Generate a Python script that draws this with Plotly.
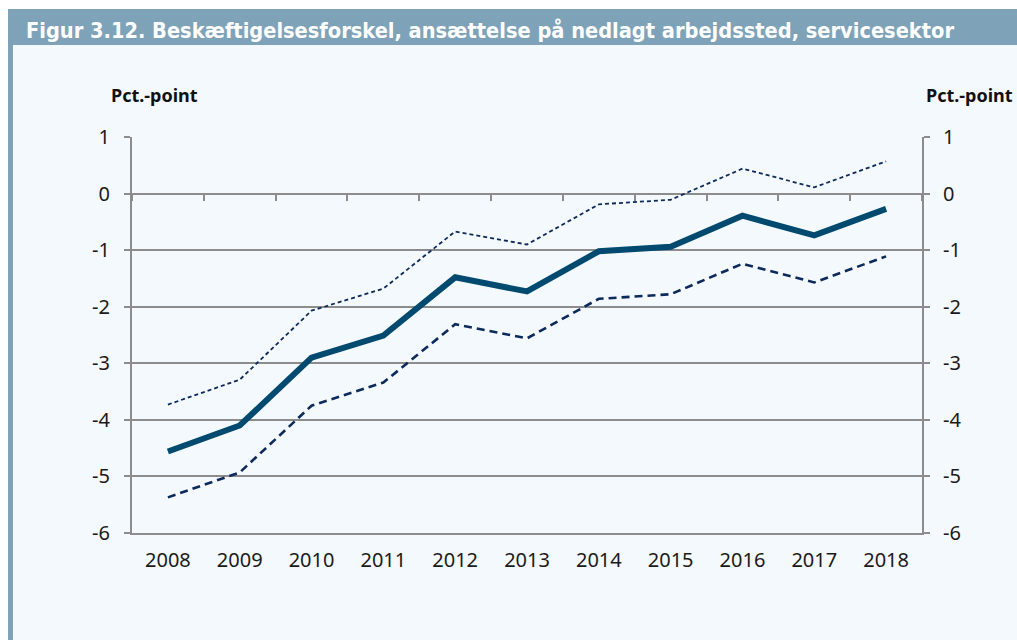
import plotly.graph_objects as go

years = ["2008", "2009", "2010", "2011", "2012", "2013", "2014", "2015", "2016", "2017", "2018"]
estimate = [-4.56, -4.10, -2.90, -2.51, -1.48, -1.73, -1.02, -0.94, -0.39, -0.74, -0.27]
upper = [-3.73, -3.29, -2.07, -1.68, -0.67, -0.90, -0.19, -0.11, 0.44, 0.11, 0.57]
lower = [-5.37, -4.93, -3.75, -3.34, -2.31, -2.56, -1.86, -1.78, -1.24, -1.57, -1.11]
y_ticks = [1, 0, -1, -2, -3, -4, -5, -6]

title_text = "Figur 3.12. Beskæftigelsesforskel, ansættelse på nedlagt arbejdssted, servicesektor"
unit_text = "Pct.-point"

W, H = 1017, 640
L, R, T, B = 132, 922, 137, 533

def px(x):
    return (x - L) / (R - L)

def py(y):
    return (B - y) / (B - T)

GRID = "#8c8c8c"
NAVY = "#0d2a5c"
MAIN = "#004a70"
TICKFONT = dict(family="Noto Sans, Open Sans, sans-serif", size=20, color="#1a1a1a")

fig = go.Figure()
# upper band drawn on the overlaying axes (same ranges) so the right axis and zero-line ticks render
fig.add_trace(go.Scatter(x=years, y=upper, mode="lines", xaxis="x2", yaxis="y2",
                         line=dict(color=NAVY, width=1.8, dash="4px,3px"),
                         showlegend=False, hoverinfo="skip"))
fig.add_trace(go.Scatter(x=years, y=lower, mode="lines",
                         line=dict(color=NAVY, width=2.6, dash="8px,5px"),
                         showlegend=False, hoverinfo="skip"))
fig.add_trace(go.Scatter(x=years, y=estimate, mode="lines",
                         line=dict(color=MAIN, width=6),
                         showlegend=False, hoverinfo="skip"))

shapes = [
    dict(type="rect", xref="paper", yref="paper", x0=px(13), x1=px(1017), y0=py(640), y1=py(45),
         fillcolor="#f4f9fd", line=dict(width=0), layer="below"),
    dict(type="rect", xref="paper", yref="paper", x0=px(8), x1=px(13), y0=py(640), y1=py(9),
         fillcolor="#7ea3b8", line=dict(width=0), layer="below"),
    dict(type="rect", xref="paper", yref="paper", x0=px(8), x1=px(1017), y0=py(45), y1=py(9),
         fillcolor="#7ea3b8", line=dict(width=0), layer="below"),
]

annotations = [
    dict(text="<b>" + title_text + "</b>", xref="paper", yref="paper", x=px(24), y=py(31),
         xanchor="left", yanchor="middle", showarrow=False,
         font=dict(family="DejaVu Sans Condensed, Liberation Sans Narrow, sans-serif", size=21.6, color="white")),
    dict(text="<b>" + unit_text + "</b>", xref="paper", yref="paper", x=px(109), y=py(95),
         xanchor="left", yanchor="middle", showarrow=False,
         font=dict(family="Noto Sans, Open Sans, sans-serif", size=18, color="#111111")),
    dict(text="<b>" + unit_text + "</b>", xref="paper", yref="paper", x=px(1015), y=py(95),
         xanchor="right", yanchor="middle", showarrow=False,
         font=dict(family="Noto Sans, Open Sans, sans-serif", size=18, color="#111111")),
]

fig.update_layout(
    width=W, height=H,
    margin=dict(l=L, r=W - R, t=T, b=H - B, pad=0),
    paper_bgcolor="white", plot_bgcolor="rgba(0,0,0,0)",
    shapes=shapes, annotations=annotations,
    xaxis=dict(type="category", categoryorder="array", categoryarray=years,
               range=[-0.5, 10.5], showgrid=False, showline=True, linecolor=GRID, linewidth=2,
               ticks="", tickfont=TICKFONT, ticklabelstandoff=8, zeroline=False, fixedrange=True),
    xaxis2=dict(type="category", categoryorder="array", categoryarray=years,
                range=[-0.5, 10.5], overlaying="x", anchor="free", position=6 / 7, side="bottom",
                tickson="boundaries", ticks="outside", ticklen=6, tickwidth=2, tickcolor=GRID,
                showticklabels=False, showgrid=False, showline=False, zeroline=False),
    yaxis=dict(range=[-6, 1], tickvals=y_ticks, ticktext=[str(v) for v in y_ticks],
               showgrid=True, gridcolor=GRID, gridwidth=2, zeroline=True, zerolinecolor=GRID,
               zerolinewidth=2, showline=True, linecolor=GRID, linewidth=2,
               ticks="outside", ticklen=6, tickwidth=2, tickcolor=GRID, tickfont=TICKFONT,
               ticklabelstandoff=10),
    yaxis2=dict(range=[-6, 1], tickvals=y_ticks, ticktext=[str(v) for v in y_ticks],
                overlaying="y", side="right", anchor="x", showgrid=False, zeroline=False,
                showline=True, linecolor=GRID, linewidth=2,
                ticks="outside", ticklen=6, tickwidth=2, tickcolor=GRID, tickfont=TICKFONT,
                ticklabelstandoff=9),
)

fig.write_html("out.html", config={"displayModeBar": False},
               post_script="document.body.style.margin='0px';document.body.style.overflow='hidden';")
